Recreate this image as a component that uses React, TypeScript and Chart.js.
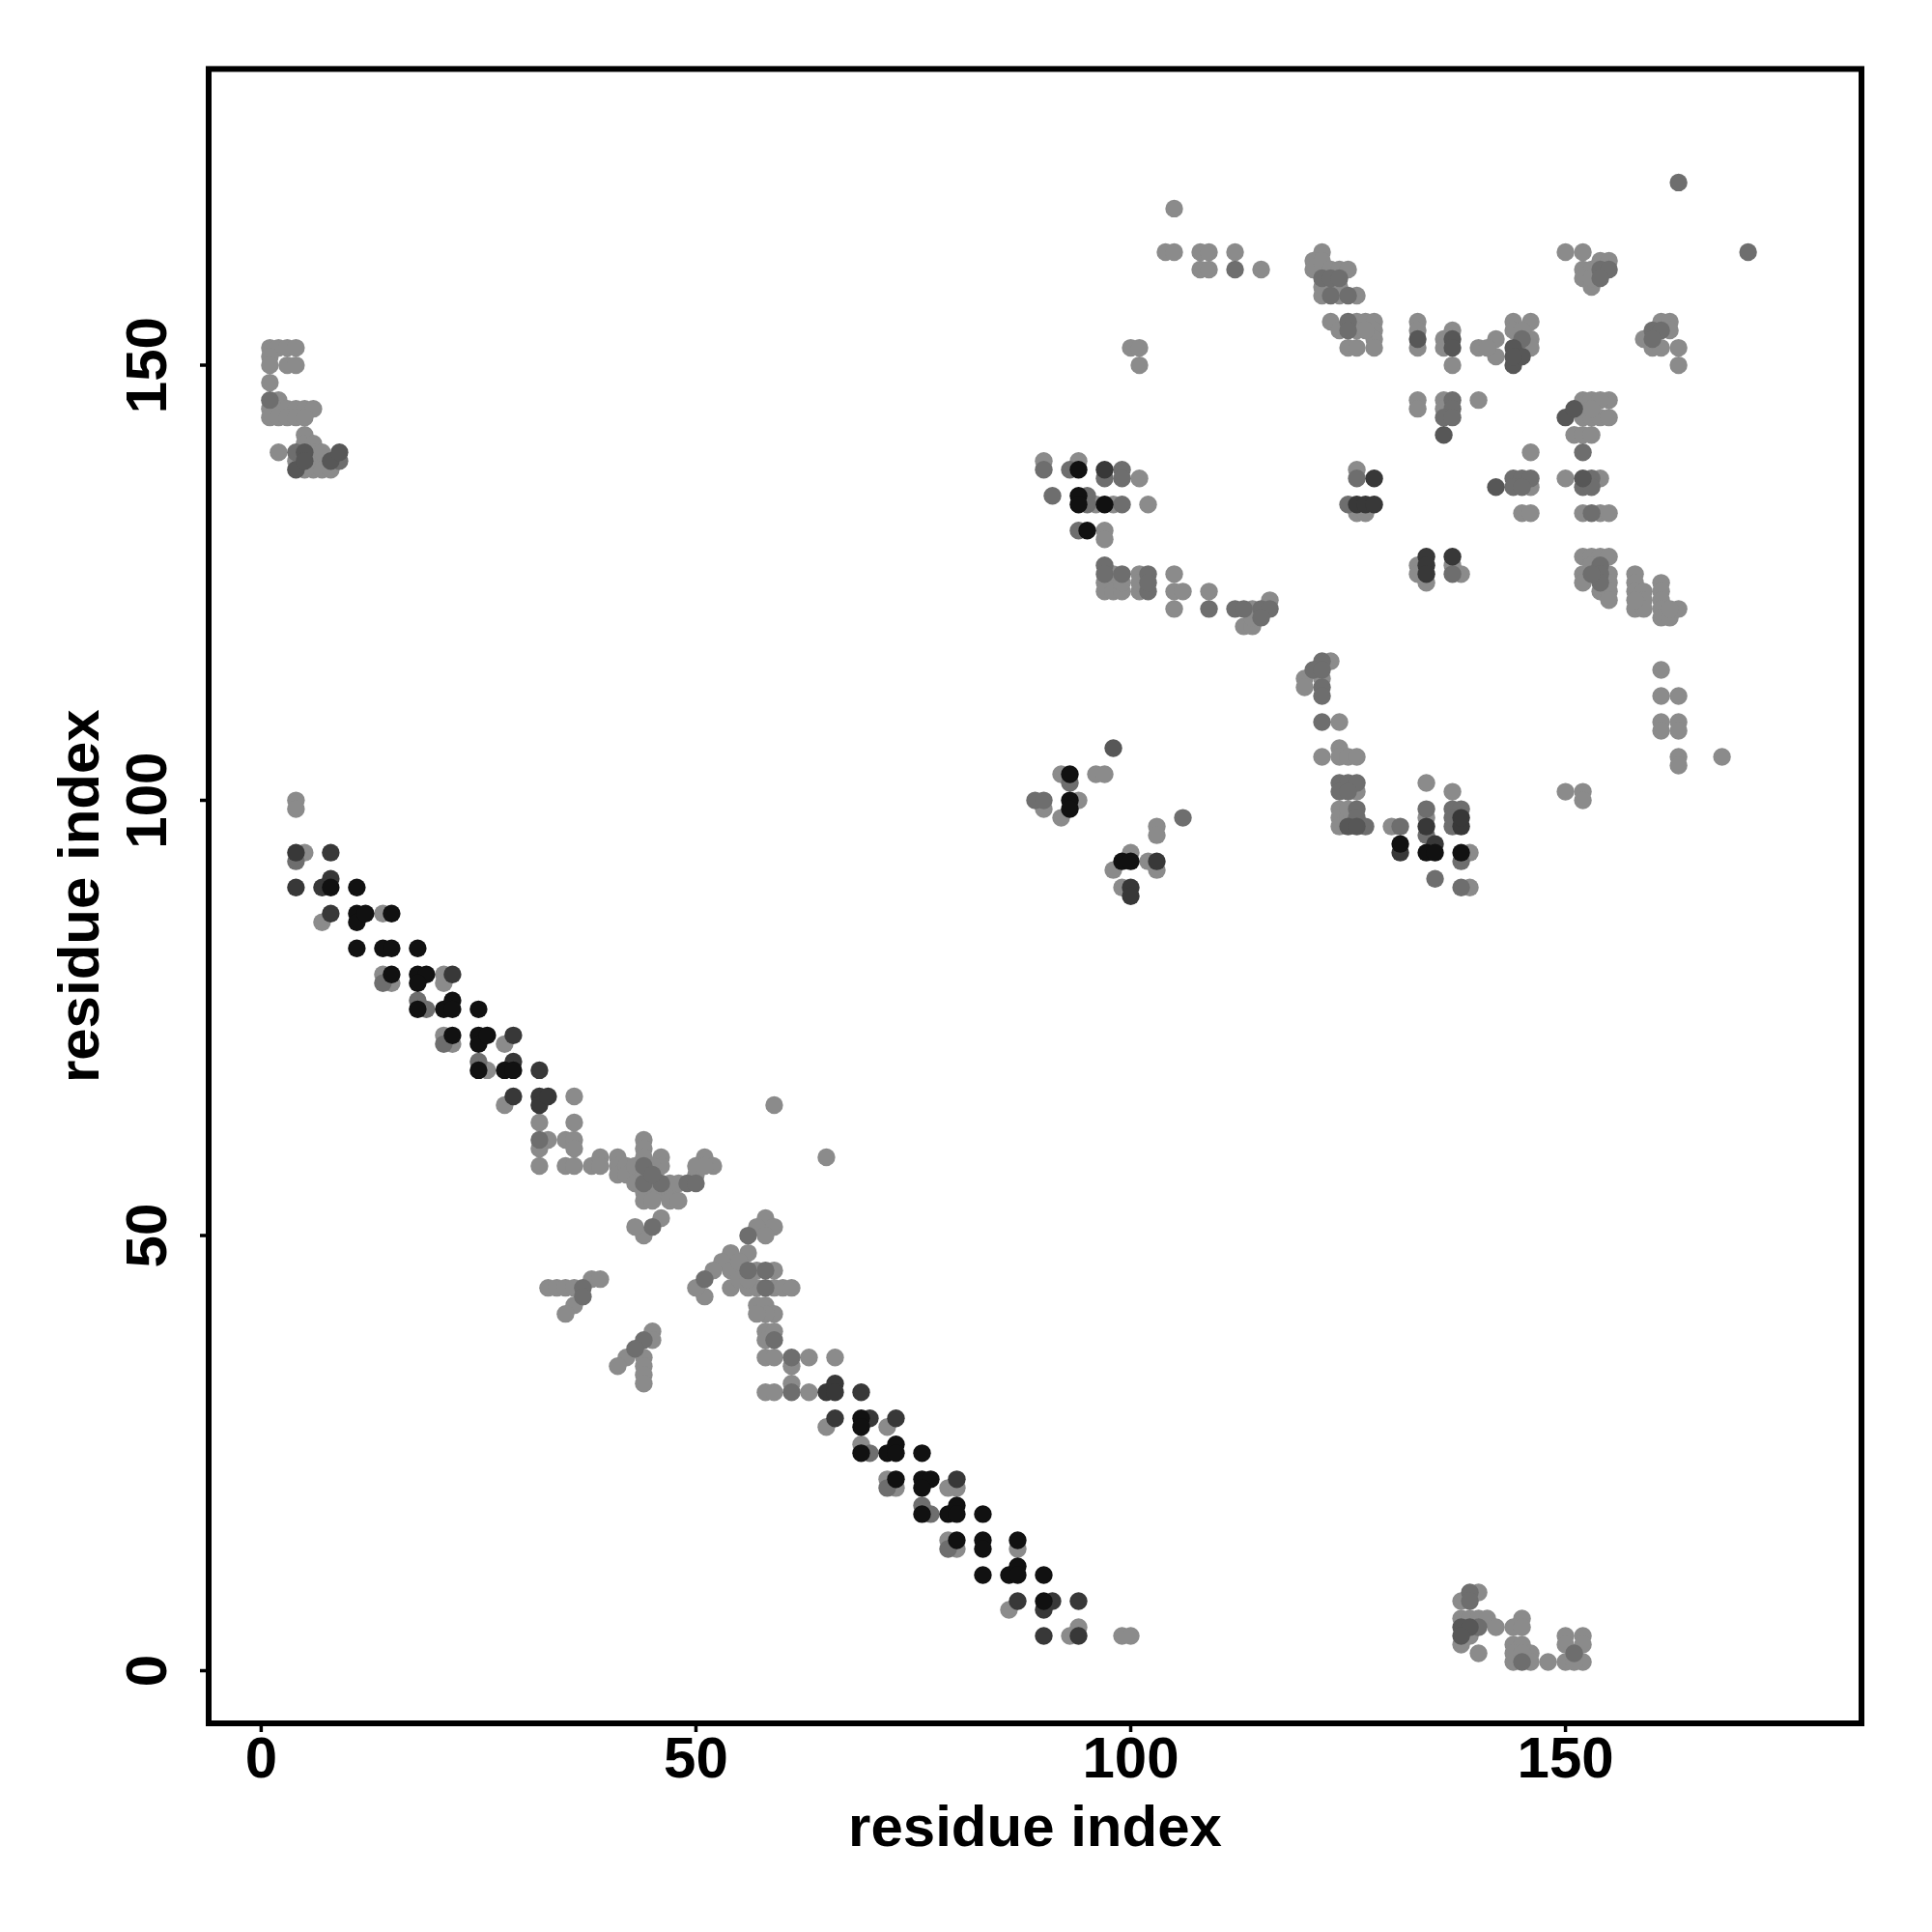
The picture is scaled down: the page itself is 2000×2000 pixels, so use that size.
import React, { useEffect, useRef } from "react";
import { Chart, registerables } from "chart.js";

Chart.register(...registerables);

// Axis ranges and ticks
const axisMin = -6.04;
const axisMax = 184.04;
const xTickValues = [0, 50, 100, 150];
const yTickValues = [0, 50, 100, 150];
const xAxisTitle = "residue index";
const yAxisTitle = "residue index";

// Contacts grouped by shade: [residue i, residue j]
const lightContacts: number[][] = [
  [1,152],[2,152],[3,152],[4,152],[1,151],[1,150],[3,150],[4,150],[1,148],[2,146],[1,145],[2,145],[3,145],[4,145],[5,145],[6,145],[1,144],[2,144],[3,144],[4,144],[5,144],[2,140],[5,142],[5,141],[6,141],[6,140],[6,139],[6,138],[7,138],[7,140],[8,138],[5,138],[4,139],
  [4,100],[4,99],[5,94],[7,86],[14,87],[14,80],[15,79],[21,80],[21,79],[21,73],[22,72],[28,72],[26,69],[28,65],[36,66],[32,63],[36,63],[33,61],[35,61],[36,61],[32,60],[36,60],[32,58],[35,58],[36,58],[38,58],
  [39,59],[39,58],[41,59],[41,58],[41,57],[42,58],[42,57],[43,58],[43,56],[44,61],[44,60],[44,59],[44,57],[44,55],[44,54],[46,59],[46,58],[46,55],[47,56],[47,55],[47,54],[48,54],[48,56],[46,52],[44,50],[43,51],[50,57],[50,58],[51,59],[52,58],[51,58],[45,58],[45,56],[45,54],[59,65],[65,59],
  [58,52],[59,51],[57,51],[58,50],[54,48],[56,48],[53,47],[52,46],[51,43],[50,44],[54,46],[54,44],[55,45],[57,46],[59,46],[56,44],[59,44],[60,44],[61,44],[57,42],[58,42],[59,41],[58,41],[57,41],[58,39],[58,38],[59,39],[58,36],[59,36],[61,35],[63,36],[66,36],[58,32],[59,32],[61,33],[63,32],[55,47],[57,44],[56,45],
  [33,44],[34,44],[35,44],[36,44],[38,45],[39,45],[36,42],[35,41],[45,39],[42,36],[41,35],[44,36],[44,35],[44,34],[44,33],[45,38],
  [65,28],[72,28],[69,26],[72,22],[73,21],[79,21],[80,21],[79,15],[80,14],[87,14],[86,7],[93,4],[94,5],[99,4],[100,4],
  [140,9],[138,8],[138,6],[139,6],[140,6],[141,6],[142,5],[139,4],[138,3],[140,2],[145,6],[144,5],[145,5],[144,3],[145,3],[144,1],[146,2],[146,1],[148,1],[150,4],[150,3],[150,1],[152,4],[152,3],[152,1],[151,1],[144,2],[145,2],
  [105,168],[104,163],[105,163],[108,163],[109,163],[112,163],[108,161],[109,161],[115,161],[100,152],[101,152],[101,150],[122,163],[121,162],[121,161],[122,162],[123,161],[124,161],[125,161],[122,159],[122,158],[124,158],[126,158],[123,159],[124,159],[123,155],[124,154],[126,155],[127,155],[128,155],[126,154],[128,154],[128,153],[125,152],[126,152],[128,152],[127,154],
  [90,139],[94,139],[101,137],[96,134],[98,134],[102,134],[97,131],[97,130],[126,138],[126,133],[127,133],
  [150,163],[152,163],[154,162],[155,162],[152,161],[153,161],[152,160],[153,159],[153,160],[133,155],[133,154],[133,152],[136,153],[137,154],[137,150],[136,152],[140,152],[142,153],[142,151],[141,152],[144,155],[146,155],[144,154],[146,153],[146,152],[145,154],[161,155],[162,155],[162,154],[159,153],[160,152],[161,152],[163,152],[163,150],[133,146],[133,145],[136,146],[136,145],[140,146],[152,146],[153,146],[155,146],[152,144],[153,144],[154,144],[155,144],[151,142],[152,142],[153,142],[154,146],[153,145],[146,140],[146,136],[145,133],[146,133],[150,137],[154,137],[152,133],[154,133],[155,133],
  [97,125],[97,124],[98,126],[98,124],[99,124],[99,125],[101,126],[101,124],[101,125],[105,126],[105,124],[106,124],[105,122],[109,124],[114,122],[116,123],[113,120],[114,120],[114,121],[123,116],[120,114],[120,113],[122,114],[124,109],[122,105],[124,106],[124,105],[125,105],[126,105],[126,101],[124,99],[124,98],[124,97],[125,98],[125,99],[130,97],[92,103],[96,103],[97,103],[90,99],[94,100],[92,98],[103,97],[103,96],[98,92],[100,94],[102,93],[103,92],[99,90],
  [133,127],[133,126],[134,125],[137,127],[138,126],[152,128],[153,128],[154,128],[155,128],[152,126],[152,125],[154,124],[155,126],[155,125],[155,124],[155,123],[153,127],[158,126],[158,125],[158,124],[158,122],[159,124],[159,123],[159,122],[161,125],[161,124],[161,123],[161,122],[161,121],[162,121],[163,122],[162,122],[158,123],[161,115],[161,112],[163,112],[161,109],[161,108],[163,109],[163,108],[163,105],[163,104],[168,105],[150,101],[152,101],[152,100],[134,102],[137,101],[134,98],[139,94],[139,90]
];

const mediumContacts: number[][] = [
  [1,146],[4,140],[9,139],[4,93],[14,79],[18,77],[19,76],[21,72],[25,70],[32,61],[44,58],[44,56],[46,56],[45,51],[49,56],[50,56],[45,57],[56,50],[51,45],[56,46],[58,46],[58,44],[61,36],[61,32],[59,38],[37,44],[37,43],[44,38],[43,37],
  [70,25],[72,21],[76,19],[77,18],[79,14],[139,9],[139,8],[145,1],[151,2],[140,5],
  [112,161],[122,160],[123,160],[123,158],[125,158],[125,155],[125,154],[124,160],[90,138],[93,138],[99,138],[97,137],[99,137],[91,135],[95,135],[95,134],[99,134],[94,131],[126,137],[125,134],
  [163,171],[171,163],[154,161],[155,161],[154,160],[145,153],[160,154],[161,154],[160,153],[137,146],[137,145],[136,144],[137,144],[152,140],[144,137],[145,137],[146,137],[144,136],[145,136],[153,137],[152,136],[153,136],[153,133],
  [97,127],[97,126],[99,126],[102,126],[102,124],[102,125],[109,122],[112,122],[113,122],[115,122],[116,122],[115,121],[122,116],[121,115],[122,115],[122,113],[122,112],[122,109],[124,102],[125,102],[126,102],[124,101],[125,101],[126,99],[126,98],[127,97],[131,97],[93,102],[89,100],[90,100],[106,98],
  [137,126],[154,127],[154,126],[154,125],[153,126],[134,99],[134,96],[137,99],[138,99],[137,97],[138,93],[135,91],[138,90],[137,98]
];

const dimContacts: number[][] = [
  [4,138],[5,140],[5,139],[8,139],[9,140],
  [133,153],[137,153],[137,152],[144,152],[144,150],[145,151],[144,151],[136,142],[150,144],[151,145],[142,136],[152,137],
  [138,5],[139,5],[138,4],[98,106],[125,97],[126,97]
];

const darkContacts: number[][] = [
  [4,94],[8,94],[4,90],[7,90],[8,91],[8,87],[22,80],[29,73],[29,70],[32,69],[29,66],[32,66],[32,65],[33,66],
  [65,32],[66,33],[66,32],[69,32],[66,29],[70,29],[73,29],[80,22],[87,8],[90,7],[91,8],[94,8],[90,4],[94,4],
  [97,138],[128,137],[126,134],[127,134],[128,134],
  [131,94],[103,93],[100,90],[100,89],[134,128],[134,127],[134,126],[137,128],[134,97],[138,97],[135,95],[138,98]
];

const blackContacts: number[][] = [
  [8,90],[11,90],[11,87],[11,86],[12,87],[15,87],[11,83],[14,83],[15,83],[18,83],[15,80],[18,80],[19,80],[18,79],[18,76],[21,76],[22,77],[22,76],[25,76],[22,73],[25,73],[25,72],[26,73],[25,69],[28,69],[29,69],
  [69,29],[69,28],[69,25],[72,25],[73,26],[73,25],[76,25],[73,22],[76,22],[77,22],[76,21],[76,18],[79,18],[80,19],[80,18],[83,18],[80,15],[83,15],[83,14],[87,15],[83,11],[86,11],[87,12],[87,11],[90,11],[90,8],
  [94,138],[94,135],[94,134],[97,134],[95,131],[131,95],[93,103],[93,100],[93,99],[99,93],[100,93],[134,94],[135,94],[138,94]
];

const shadeColors = ["#8b8b8b", "#6e6e6e", "#575757", "#383838", "#111111"];

const FONT = '"Liberation Sans", Arial, Helvetica, sans-serif';

const rAxesPlugin = {
  id: "rAxes",
  afterDraw(chart: any) {
    const { ctx, chartArea: a, scales } = chart;
    const xs = scales.x;
    const ys = scales.y;
    ctx.save();
    ctx.strokeStyle = "#000";
    ctx.lineWidth = 6;
    ctx.strokeRect(a.left, a.top, a.right - a.left, a.bottom - a.top);

    ctx.lineWidth = 3.5;
    ctx.beginPath();
    for (const v of xTickValues) {
      const px = xs.getPixelForValue(v);
      ctx.moveTo(px, a.bottom);
      ctx.lineTo(px, a.bottom + 9);
    }
    for (const v of yTickValues) {
      const py = ys.getPixelForValue(v);
      ctx.moveTo(a.left, py);
      ctx.lineTo(a.left - 9, py);
    }
    ctx.stroke();

    ctx.fillStyle = "#000";
    ctx.font = `bold 60px ${FONT}`;
    ctx.textAlign = "center";
    ctx.textBaseline = "alphabetic";
    for (const v of xTickValues) {
      ctx.fillText(String(v), xs.getPixelForValue(v), a.bottom + 56);
    }
    for (const v of yTickValues) {
      ctx.save();
      ctx.translate(a.left - 44.5, ys.getPixelForValue(v));
      ctx.rotate(-Math.PI / 2);
      ctx.fillText(String(v), 0, 0);
      ctx.restore();
    }
    ctx.fillText(xAxisTitle, (a.left + a.right) / 2, a.bottom + 127);
    ctx.save();
    ctx.translate(a.left - 114, (a.top + a.bottom) / 2);
    ctx.rotate(-Math.PI / 2);
    ctx.fillText(yAxisTitle, 0, 0);
    ctx.restore();
    ctx.restore();
  },
};

export default function App() {
  const canvasRef = useRef<HTMLCanvasElement | null>(null);

  useEffect(() => {
    if (!canvasRef.current) return;
    const groups = [lightContacts, mediumContacts, dimContacts, darkContacts, blackContacts];
    const datasets = groups.map((g, i) => ({
      label: `shade${i}`,
      data: g.map(([x, y]) => ({ x, y })),
      backgroundColor: shadeColors[i],
      borderColor: "rgba(0,0,0,0)",
      pointRadius: 9.2,
      pointHoverRadius: 9.2,
      pointBorderWidth: 0,
      borderWidth: 0,
      order: groups.length - 1 - i,
    }));
    const chart = new Chart(canvasRef.current, {
      type: "scatter",
      data: { datasets },
      options: {
        animation: false,
        responsive: false,
        events: [],
        layout: { padding: { left: 216, top: 71.4, right: 73, bottom: 216 } },
        plugins: { legend: { display: false }, tooltip: { enabled: false } },
        scales: {
          x: { type: "linear", min: axisMin, max: axisMax, display: false },
          y: { type: "linear", min: axisMin, max: axisMax, display: false },
        },
      },
      plugins: [rAxesPlugin],
    });
    return () => chart.destroy();
  }, []);

  return (
    <div style={{ position: "absolute", left: 0, top: 0, width: 2000, height: 2000, background: "#fff" }}>
      <canvas ref={canvasRef} width={2000} height={2000} style={{ width: 2000, height: 2000, display: "block" }} />
    </div>
  );
}
